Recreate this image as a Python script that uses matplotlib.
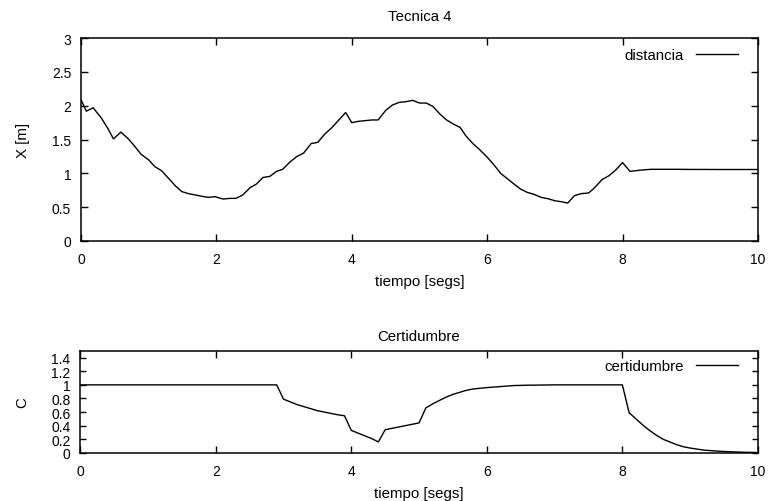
import numpy as np
import matplotlib
matplotlib.use("Agg")
import matplotlib.pyplot as plt

plt.rcParams['font.family'] = ['Liberation Sans', 'DejaVu Sans']
plt.rcParams['font.size'] = 10.8

# distancia (top panel), roughly one sample each 0.1 s
t_dist = [0.0, 0.08, 0.18, 0.3, 0.4, 0.48, 0.59, 0.69, 0.77, 0.89, 1.0, 1.09, 1.19,
          1.31, 1.4, 1.49, 1.59, 1.69, 1.79, 1.88, 1.98, 2.1, 2.2, 2.29, 2.39, 2.5,
          2.59, 2.69, 2.79, 2.89, 2.98, 3.09, 3.19, 3.29, 3.4, 3.5, 3.6, 3.7, 3.81,
          3.91, 4.0, 4.1, 4.2, 4.3, 4.39, 4.5, 4.6, 4.7, 4.8, 4.9, 5.0, 5.1, 5.2,
          5.3, 5.4, 5.5, 5.6, 5.69, 5.79, 5.89, 5.99, 6.09, 6.2, 6.3, 6.4, 6.49,
          6.59, 6.69, 6.8, 6.9, 7.0, 7.1, 7.19, 7.29, 7.39, 7.5, 7.59, 7.7, 7.8,
          7.9, 8.0, 8.11, 8.2, 8.29, 8.42, 8.6, 8.8, 9.0, 9.2, 9.4, 9.6, 9.8, 10.0]
distancia = [2.09, 1.92, 1.97, 1.82, 1.66, 1.51, 1.61, 1.52, 1.43, 1.28, 1.20, 1.10,
             1.04, 0.91, 0.81, 0.73, 0.70, 0.68, 0.66, 0.645, 0.655, 0.62, 0.63, 0.63,
             0.68, 0.79, 0.84, 0.94, 0.955, 1.03, 1.06, 1.17, 1.25, 1.30, 1.44, 1.46,
             1.58, 1.67, 1.79, 1.90, 1.75, 1.77, 1.78, 1.79, 1.79, 1.93, 2.01, 2.05,
             2.06, 2.08, 2.04, 2.04, 1.99, 1.88, 1.79, 1.73, 1.68, 1.55, 1.44, 1.35,
             1.25, 1.14, 1.00, 0.92, 0.84, 0.77, 0.72, 0.69, 0.645, 0.625, 0.595,
             0.58, 0.56, 0.67, 0.70, 0.71, 0.79, 0.91, 0.965, 1.05, 1.16, 1.03, 1.04,
             1.05, 1.06, 1.06, 1.06, 1.058, 1.058, 1.057, 1.057, 1.057, 1.057]

# certidumbre (bottom panel)
t_cert = [0.0, 2.9, 3.0, 3.1, 3.2, 3.3, 3.4, 3.5, 3.6, 3.7, 3.8, 3.9, 4.0, 4.1, 4.2,
          4.3, 4.4, 4.5, 4.6, 4.7, 4.8, 4.9, 5.0, 5.1, 5.2, 5.3, 5.4, 5.5, 5.6, 5.7,
          5.8, 5.9, 6.0, 6.2, 6.4, 6.6, 7.0, 8.0, 8.1, 8.2, 8.3, 8.4, 8.5, 8.6, 8.7,
          8.8, 8.9, 9.0, 9.2, 9.4, 9.6, 9.8, 10.0]
certidumbre = [1.0, 1.0, 0.79, 0.75, 0.71, 0.68, 0.65, 0.62, 0.60, 0.58, 0.56, 0.545,
               0.33, 0.29, 0.25, 0.21, 0.16, 0.34, 0.36, 0.38, 0.40, 0.42, 0.44, 0.66,
               0.72, 0.77, 0.82, 0.86, 0.89, 0.92, 0.94, 0.95, 0.96, 0.975, 0.99,
               0.995, 1.0, 1.0, 0.59, 0.50, 0.41, 0.33, 0.26, 0.20, 0.16, 0.12, 0.09,
               0.07, 0.04, 0.025, 0.015, 0.008, 0.004]

x_ticks = [0, 2, 4, 6, 8, 10]
dist_ticks = [0, 0.5, 1, 1.5, 2, 2.5, 3]
cert_ticks = [0, 0.2, 0.4, 0.6, 0.8, 1, 1.2, 1.4]


def fmt(v):
    return '%g' % v


def style(ax):
    ax.tick_params(direction='in', length=5, width=1, top=True, right=True,
                   labelsize=10)
    ax.tick_params(axis='x', pad=8)
    ax.tick_params(axis='y', pad=7)
    for s in ax.spines.values():
        s.set_linewidth(1.1)


fig = plt.figure(figsize=(7.71, 5.02), dpi=100)

ax1 = fig.add_axes([0.105, 0.518, 0.878, 0.404])
ax1.plot(t_dist, distancia, color='black', lw=1, label='distancia')
ax1.set_xlim(0, 10)
ax1.set_ylim(0, 3)
ax1.set_xticks(x_ticks)
ax1.set_xticklabels([fmt(v) for v in x_ticks])
ax1.set_yticks(dist_ticks)
ax1.set_yticklabels([fmt(v) for v in dist_ticks])
ax1.set_title('Tecnica 4', pad=13, fontsize=10.8)
ax1.set_xlabel('tiempo [segs]', labelpad=6)
ax1.set_ylabel('X [m]', labelpad=16)
ax1.legend(loc='upper right', bbox_to_anchor=(0.979, 0.98), borderaxespad=0,
           frameon=False, markerfirst=False, handlelength=2.8, handletextpad=0.8)
style(ax1)

ax2 = fig.add_axes([0.104, 0.096, 0.879, 0.203])
ax2.plot(t_cert, certidumbre, color='black', lw=1, label='certidumbre')
ax2.set_xlim(0, 10)
ax2.set_ylim(0, 1.5)
ax2.set_xticks(x_ticks)
ax2.set_xticklabels([fmt(v) for v in x_ticks])
ax2.set_yticks(cert_ticks)
ax2.set_yticklabels([fmt(v) for v in cert_ticks])
ax2.set_title('Certidumbre', pad=8, fontsize=10.8)
ax2.set_xlabel('tiempo [segs]', labelpad=6)
ax2.set_ylabel('C', labelpad=16)
ax2.legend(loc='upper right', bbox_to_anchor=(0.979, 0.98), borderaxespad=0,
           frameon=False, markerfirst=False, handlelength=2.8, handletextpad=0.8)
style(ax2)
ax2.tick_params(axis='y', length=4)

fig.savefig('out.png', dpi=100)
